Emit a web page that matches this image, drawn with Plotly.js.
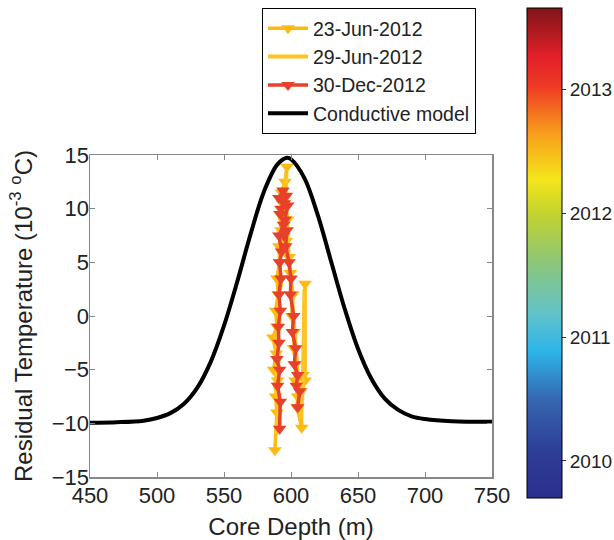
<!DOCTYPE html>
<html>
<head>
<meta charset="utf-8">
<script src="https://cdn.plot.ly/plotly-3.0.1.min.js"></script>
<style>html,body{margin:0;padding:0;background:#fff;}#chart{width:614px;height:540px;}</style>
</head>
<body>
<div id="chart"></div>
<script>
// Conductive model curve
var modelDepth = [450,470,490,500,510,520,530,540,550,560,570,580,590,597,600,610,620,630,640,650,660,670,680,690,700,720,750];
var modelTemp  = [-9.95,-9.9,-9.75,-9.5,-9.05,-8.2,-6.7,-4.3,-0.9,3.25,7.7,11.65,14.15,14.75,14.6,12.85,9.4,5.05,0.7,-3.05,-5.85,-7.7,-8.75,-9.35,-9.6,-9.8,-9.85];

// 23-Jun-2012 (line + markers)
var jun23Depth = [588.0,589.5,588.5,590.0,587.0,589.0,586.5,589.5,588.5,590.5,589.5,591.5,591.0,592.5,591.5,593.5,593.0,595.5,597.0,595.5,597.5,596.5,598.5,599.5,601.5,600.5,602.5,602.0,603.5,603.0,605.0,604.5,608.0,607.5,609.0,610.5,610.5];
var jun23Temp  = [-12.5,-9.0,-7.5,-6.0,-5.0,-3.5,-2.0,-1.0,0.5,2.0,3.5,5.0,6.5,8.0,9.5,10.5,11.5,12.5,13.9,11.0,9.0,7.0,5.5,4.0,2.0,0.0,-1.5,-3.0,-4.5,-6.0,-7.5,-8.5,-10.4,-7.0,-5.5,3.0,-6.0];

// 29-Jun-2012 (line only)
var jun29Depth = [589.0,590.5,588.0,591.0,589.5,591.5,590.5,592.5,591.5,593.5,593.0,595.0,596.5,595.5,597.5,598.5,600.5,601.5,603.0,604.0,605.5,606.5,607.5,609.0,610.0];
var jun29Temp  = [-11.0,-8.0,-6.5,-4.0,-2.5,-0.5,1.5,3.0,5.0,7.5,9.5,11.5,13.3,10.0,7.5,5.0,2.5,0.5,-2.0,-4.0,-6.5,-8.0,-9.5,-6.0,2.5];

// 30-Dec-2012 (line + markers)
var dec30Depth = [591.5,592.0,590.0,591.5,589.5,591.0,590.5,592.0,591.0,592.5,591.5,593.0,591.0,594.5,592.0,595.0,591.0,594.0,596.5,592.5,597.5,595.5,594.5,597.0,596.0,598.5,600.0,599.5,602.0,601.0,603.5,602.5,605.0,604.0,606.5,605.0];
var dec30Temp  = [-10.5,-8.0,-6.5,-5.0,-4.0,-2.5,-1.0,0.5,2.0,3.5,5.0,6.0,7.5,8.5,9.5,10.5,11.0,11.7,11.2,10.0,10.3,9.0,7.5,8.0,6.5,5.0,3.5,2.0,0.0,-1.5,-3.0,-4.5,-5.5,-6.5,-7.0,-8.5];

// Colorbar (years)
var yearMin = 2009.7, yearMax = 2013.66;
var yearTicks = [2010, 2011, 2012, 2013];

var font = 'Liberation Sans, Arial, Helvetica, sans-serif';
var orange = '#FDBA12';
var red = '#E8412B';

var jetScale = [
  [0.00,'#2a2f8c'],[0.10,'#2e3f98'],[0.20,'#3566b0'],[0.30,'#2eb5e8'],[0.38,'#63c3c8'],
  [0.48,'#8cc67a'],[0.58,'#c3d32f'],[0.65,'#f4e51a'],[0.74,'#f8a21c'],[0.84,'#ee3a24'],
  [0.90,'#e3202a'],[1.00,'#7e1518']
];

// plot area in pixels: x 90..492, y 155..477
var PW = 402, PH = 322;

var traces = [
  {x: jun23Depth, y: jun23Temp, name: '23-Jun-2012', type: 'scatter', mode: 'lines+markers',
   line: {color: orange, width: 3.5}, marker: {symbol: 'triangle-down', size: 12, color: orange}},
  {x: jun29Depth, y: jun29Temp, name: '29-Jun-2012', type: 'scatter', mode: 'lines',
   line: {color: '#FEC422', width: 4}},
  {x: dec30Depth, y: dec30Temp, name: '30-Dec-2012', type: 'scatter', mode: 'lines+markers',
   line: {color: red, width: 3.5}, marker: {symbol: 'triangle-down', size: 12, color: red}},
  {x: modelDepth, y: modelTemp, name: 'Conductive model', type: 'scatter', mode: 'lines',
   line: {color: '#000', width: 4, shape: 'spline', smoothing: 1}},
  {x: [1000], y: [0], type: 'scatter', mode: 'markers', showlegend: false, hoverinfo: 'skip',
   marker: {size: 1, color: [2012], cmin: yearMin, cmax: yearMax, colorscale: jetScale, showscale: true,
     colorbar: {x: (527 - 90) / PW, xanchor: 'left', y: (477 - 8) / PH, yanchor: 'top',
       lenmode: 'pixels', len: 490, thicknessmode: 'pixels', thickness: 35, xpad: 0, ypad: 0,
       outlinewidth: 1, outlinecolor: '#000', tickvals: yearTicks, ticktext: yearTicks.map(String),
       ticks: 'outside', ticklen: 4, tickcolor: '#333', tickfont: {size: 19, family: font, color: '#222'}}}}
];

var axisCommon = {showline: true, linecolor: '#888', linewidth: 1.5, mirror: 'ticks', ticks: 'inside',
  ticklen: 5, tickcolor: '#888', showgrid: false, zeroline: false, automargin: false,
  tickfont: {size: 22, family: font, color: '#222'}};

var layout = {
  width: 614, height: 540,
  margin: {l: 90, r: 122, t: 155, b: 63, autoexpand: false},
  paper_bgcolor: '#fff', plot_bgcolor: '#fff',
  font: {family: font, color: '#222'},
  showlegend: true,
  legend: {x: (262 - 90) / PW, y: (477 - 8) / PH, xanchor: 'left', yanchor: 'top',
    bordercolor: '#000', borderwidth: 1, bgcolor: '#fff', font: {size: 19.5, family: font, color: '#222'},
    tracegroupgap: 0, itemwidth: 40},
  xaxis: Object.assign({}, axisCommon, {range: [450, 750], dtick: 50, tick0: 450, ticklabelstandoff: -2,
    title: {text: 'Core Depth (m)', font: {size: 24, family: font, color: '#222'}}}),
  yaxis: Object.assign({}, axisCommon, {range: [-15, 15], dtick: 5, tick0: -15, ticklabelstandoff: -5,
    title: {text: 'Residual Temperature (10<sup>-3</sup> <sup>o</sup>C)', font: {size: 24, family: font, color: '#222'}}})
};

Plotly.newPlot('chart', traces, layout, {displayModeBar: false, staticPlot: true});
</script>
</body>
</html>
